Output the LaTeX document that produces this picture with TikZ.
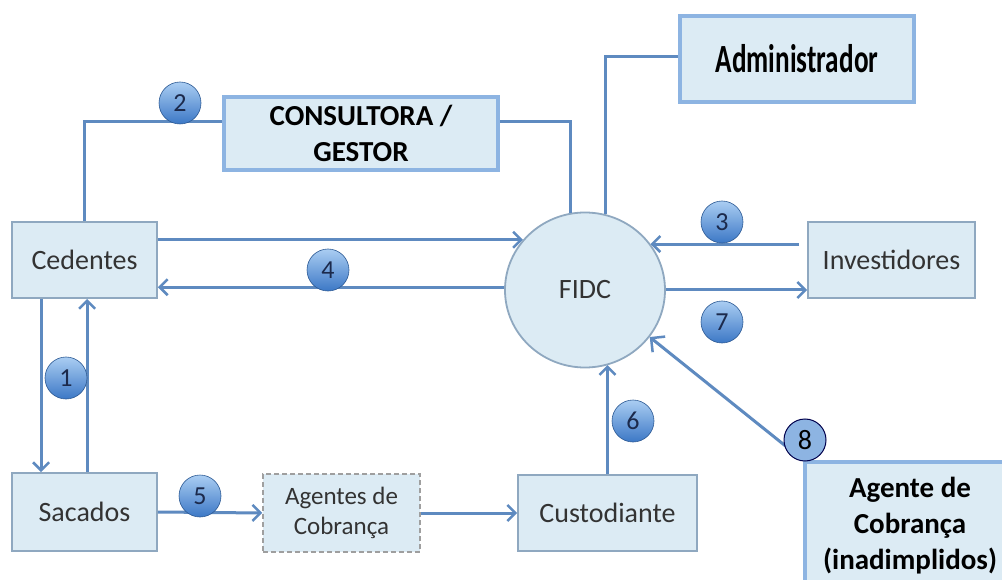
\documentclass[tikz,border=0pt]{standalone}
\usepackage{fontspec}
\setmainfont{Carlito}
\usetikzlibrary{arrows.meta,shapes.geometric,calc}
\definecolor{boxfill}{HTML}{DCEBF4}
\definecolor{boxline}{HTML}{8FA8C0}
\definecolor{hlline}{HTML}{8DB4E2}
\definecolor{connblue}{HTML}{5E8AC0}
\definecolor{balltop}{HTML}{AACDF2}
\definecolor{ballbot}{HTML}{3C78C6}
\definecolor{numtext}{HTML}{1C2A4C}
\definecolor{labeltext}{HTML}{333333}
\begin{document}
\begin{tikzpicture}[x=1pt,y=-1pt,
  plainbox/.style={draw=boxline, line width=1.8pt, fill=boxfill, inner sep=0pt,
    font=\fontsize{28}{31}\selectfont, text=labeltext, align=center},
  dashbox/.style={plainbox, draw=gray!75, dash pattern=on 5pt off 3pt, line width=1.5pt,
    font=\fontsize{25}{30}\selectfont},
  keybox/.style={draw=hlline, line width=4pt, fill=boxfill, inner sep=0pt,
    font=\bfseries\fontsize{29}{36}\selectfont, align=center, text=black},
  numball/.style={circle, minimum size=42pt, inner sep=0pt, top color=balltop,
    bottom color=ballbot, draw=ballbot!75!black, line width=0.6pt,
    font=\fontsize{26}{28}\selectfont, text=numtext},
  flow/.style={draw=connblue, line width=3pt},
  flowarrow/.style={flow, -{Straight Barb[length=8pt,width=16pt,line width=2.5pt]}}
]
\useasboundingbox (0,0) rectangle (1002,580);
\fill[white] (0,0) rectangle (1002,580);

% nodes
\node[plainbox, minimum width=145pt, minimum height=76pt] (ced) at (84.5,260) {Cedentes};
\node[plainbox, minimum width=145pt, minimum height=78pt] (sac) at (84.5,512) {Sacados};
\node[dashbox, minimum width=157pt, minimum height=78pt] (age) at (341.5,513) {Agentes de\\Cobrança};
\node[plainbox, minimum width=179pt, minimum height=76pt] (cus) at (607.5,513) {Custodiante};
\node[plainbox, minimum width=167pt, minimum height=76pt] (inv) at (891.5,260) {Investidores};
\node[ellipse, draw=boxline, line width=1.8pt, fill=boxfill, minimum width=160pt,
  minimum height=155pt, inner sep=0pt, font=\fontsize{28}{31}\selectfont, text=labeltext] (fidc) at (585,290) {FIDC};
\node[keybox, minimum width=274pt, minimum height=73pt] (cons) at (361,133.5) {CONSULTORA /\\GESTOR};
\node[keybox, minimum width=234pt, minimum height=86pt] (adm) at (797,59)
  {\scalebox{0.68}[1]{\fontsize{40}{41}\selectfont Administrador}};
\node[keybox, minimum width=210pt, minimum height=128pt, font=\bfseries\fontsize{29}{36}\selectfont] (agc) at (910,526)
  {Agente de\\Cobrança\\(inadimplidos)};

% connectors
\draw[flow] (ced.north) |- ($(cons.west)+(0,-11.5)$);
\draw[flow] ($(cons.east)+(0,-11.5)$) -| (fidc.101);
\draw[flow] ($(adm.west)+(0,-2)$) -| (fidc.75);
\draw[flowarrow] (fidc.141 -| ced.east) -- (fidc.141);
\draw[flowarrow] (fidc.178) -- (fidc.178 -| ced.east);
\draw[flowarrow] ($(fidc.35 -| inv.west)+(-8,0)$) -- (fidc.35);
\draw[flowarrow] (fidc.east) -- (fidc.east -| inv.west);
\draw[flowarrow] ($(ced.south west)+(30,0)$) -- ($(sac.north west)+(30,0)$);
\draw[flowarrow] ($(sac.north west)+(76,0)$) -- ($(ced.south west)+(76,0)$);
\draw[flowarrow] (sac.east) -- (age.west);
\draw[flowarrow] (age.east) -- (cus.west);
\draw[flowarrow] (cus.north) -- (cus.north |- fidc.-73);
\draw[flow, -{Straight Barb[length=10pt,width=20pt,line width=2.5pt]}] (agc.north west) -- (fidc.-36);

% number balls
\node[numball] (n1) at (66,378) {1};
\node[numball] (n2) at (180,103) {2};
\node[numball] (n3) at (722,222) {3};
\node[numball] (n4) at (328,270) {4};
\node[numball] (n5) at (200,496) {5};
\node[numball] (n6) at (633,421) {6};
\node[numball] (n7) at (722,322) {7};
\node[circle, minimum size=42pt, inner sep=0pt, fill=hlline, draw=black!70!blue, line width=1pt,
  font=\fontsize{28}{30}\selectfont, text=black] (n8) at (805,440) {8};
\end{tikzpicture}
\end{document}
